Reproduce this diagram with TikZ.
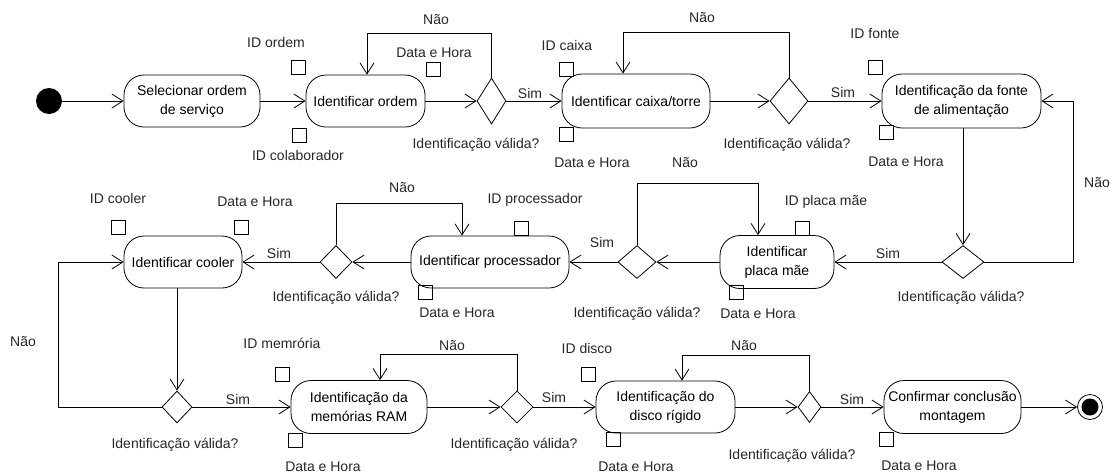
\documentclass[tikz,border=0pt]{standalone}
\usepackage{fontspec}
\setmainfont{Liberation Sans}
\usetikzlibrary{arrows.meta,shapes.geometric}
\tikzstyle{flow}=[draw,-{Straight Barb[length=11pt,width=14pt]}]
\tikzstyle{act}=[draw,rounded corners=20pt,align=center,inner sep=2pt]
\tikzstyle{dec}=[draw,diamond,inner sep=0pt]
\tikzstyle{pinbox}=[draw,minimum size=14pt,inner sep=0pt]
\tikzstyle{lbl}=[inner sep=0pt,text=black!85]
\tikzstyle{initnode}=[circle,fill=black,minimum size=26pt,inner sep=0pt]
\tikzstyle{endnode}=[draw,circle,minimum size=25pt,inner sep=0pt,
                path picture={\fill (path picture bounding box.center) circle (8.5pt);}]
\begin{document}
\begin{tikzpicture}[x=1pt,y=-1pt,line width=0.8pt,font=\fontsize{14}{19}\selectfont]
  \useasboundingbox (0,0) rectangle (1111,475);
  % linha 1
  \node[initnode] (start) at (49,101) {};
  \node[act,minimum width=136pt,minimum height=52pt] (sel) at (192,101) {Selecionar ordem\\de serviço};
  \node[act,minimum width=119pt,minimum height=52pt] (ordem) at (365.5,101) {Identificar ordem};
  \node[dec,minimum width=29pt,minimum height=46pt] (d_ordem) at (491.5,101) {};
  \node[act,minimum width=148pt,minimum height=54pt] (caixa) at (636,101) {Identificar caixa/torre};
  \node[dec,minimum width=38pt,minimum height=46pt] (d_caixa) at (789,101) {};
  \node[act,minimum width=159pt,minimum height=54pt] (fonte) at (961.5,101) {Identificação da fonte\\de alimentação};
  % linha 2
  \node[act,minimum width=118pt,minimum height=52pt] (cooler) at (183,262) {Identificar cooler};
  \node[dec,minimum width=32pt,minimum height=33pt] (d_proc) at (336,262) {};
  \node[act,minimum width=158pt,minimum height=52pt] (proc) at (490,262) {Identificar processador};
  \node[dec,minimum width=38pt,minimum height=33pt] (d_placa) at (637,262) {};
  \node[act,minimum width=114pt,minimum height=53pt] (placa) at (777,262) {Identificar\\placa mãe};
  \node[dec,minimum width=42pt,minimum height=33pt] (d_fonte) at (963,262) {};
  % linha 3
  \node[dec,minimum width=30pt,minimum height=32pt] (d_cooler) at (177,407) {};
  \node[act,minimum width=136pt,minimum height=53pt] (ram) at (359,407) {Identificação da\\memórias RAM};
  \node[dec,minimum width=32pt,minimum height=32pt] (d_ram) at (517,407) {};
  \node[act,minimum width=139pt,minimum height=52pt] (disco) at (665.5,407) {Identificação do\\disco rígido};
  \node[dec,minimum width=23pt,minimum height=31pt] (d_disco) at (809.5,407) {};
  \node[act,minimum width=137pt,minimum height=53pt] (conf) at (952.5,407) {Confirmar conclusão\\montagem};
  \node[endnode] (end) at (1090,407) {};
  % pinos
  \foreach \x/\y [count=\i] in {298/67.5,299.5/135,433.5/69,566/69,566/134,875.5/67.5,886.5/132.5,
      118.5/227,241.5/227,521/228,425/292,802.5/228,736/292,
      282/374,295.5/440,588.5/374,613/439,886.5/439}
    \node[pinbox] (pin\i) at (\x,\y) {};
  % textos
  \foreach \x/\y/\t [count=\i] in {276/42/ID ordem,298/155/ID colaborador,434/53/Data e Hora,
      436/20/Não,530/93/Sim,476/145/Identificação válida?,567/45/ID caixa,592/163/Data e Hora,
      702/18/Não,787/145/Identificação válida?,685/163/Não,843/92/Sim,875/33/ID fonte,906/162/Data e Hora,
      1097/183/Não,118/198/ID cooler,255/202/Data e Hora,279/253/Sim,402/188/Não,
      336/298/Identificação válida?,535/200/ID processador,457/313/Data e Hora,602/242/Sim,
      637/314/Identificação válida?,826/202/ID placa mãe,758/314/Data e Hora,888/253/Sim,
      961/298/Identificação válida?,
      23/342/Não,238/399/Sim,175/445/Identificação válida?,282/343/ID memrória,323/467/Data e Hora,
      452/346/Não,554/397/Sim,514/445/Identificação válida?,587/348/ID disco,636/467/Data e Hora,
      744/346/Não,852/399/Sim,792/456/Identificação válida?,919/466/Data e Hora}
    \node[lbl] (lbl\i) at (\x,\y) {\t};
  % fluxo
  \draw[flow] (start) -- (sel);
  \draw[flow] (sel) -- (ordem);
  \draw[flow] (ordem) -- (d_ordem);
  \draw[flow] (d_ordem) -- (caixa);
  \draw[flow] (caixa) -- (d_caixa);
  \draw[flow] (d_caixa) -- (fonte);
  \draw[flow] (d_ordem.north) |- (367,33) -- (ordem.north -| 367,0);
  \draw[flow] (d_caixa.north) |- (623,32) -- (caixa.north -| 623,0);
  \draw[flow] (fonte.south -| d_fonte.north) -- (d_fonte.north);
  \draw[flow] (d_fonte.east) -| (1073,101) -- (fonte.east);
  \draw[flow] (d_fonte) -- (placa);
  \draw[flow] (placa) -- (d_placa);
  \draw[flow] (d_placa) -- (proc);
  \draw[flow] (proc) -- (d_proc);
  \draw[flow] (d_proc) -- (cooler);
  \draw[flow] (d_placa.north) |- (758,183) -- (placa.north -| 758,0);
  \draw[flow] (d_proc.north) |- (462,203) -- (proc.north -| 462,0);
  \draw[flow] (cooler.south -| d_cooler.north) -- (d_cooler.north);
  \draw[flow] (d_cooler.west) -| (58,262) -- (cooler.west);
  \draw[flow] (d_cooler) -- (ram);
  \draw[flow] (ram) -- (d_ram);
  \draw[flow] (d_ram) -- (disco);
  \draw[flow] (disco) -- (d_disco);
  \draw[flow] (d_disco) -- (conf);
  \draw[flow] (conf) -- (end);
  \draw[flow] (d_ram.north) |- (380,354) -- (ram.north -| 380,0);
  \draw[flow] (d_disco.north) |- (682,355) -- (disco.north -| 682,0);
\end{tikzpicture}
\end{document}
